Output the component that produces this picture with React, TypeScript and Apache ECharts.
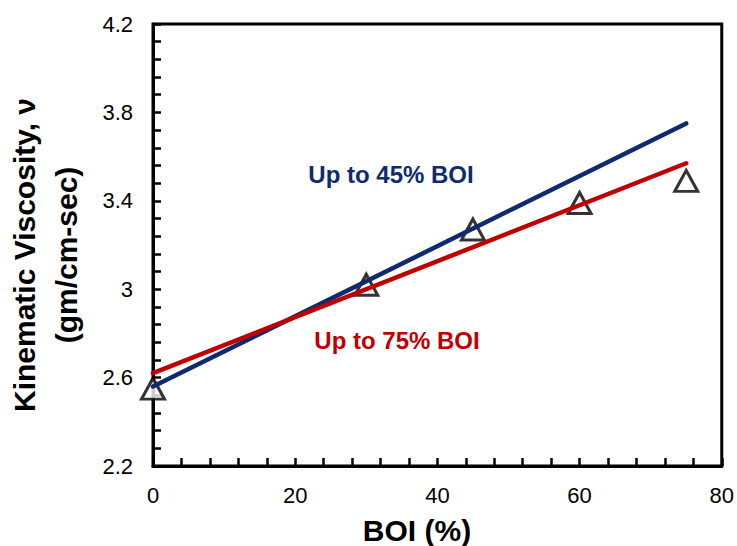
import React, { useEffect, useRef } from "react";
import * as echarts from "echarts";

const boi = [0, 30, 45, 60, 75];
const viscosity = [2.55, 3.02, 3.27, 3.39, 3.49];
const fit45X = [0, 75];
const fit45Y = [2.56, 3.75];
const fit75X = [0, 75];
const fit75Y = [2.62, 3.57];
const FONT = "Arial, 'Liberation Sans', sans-serif";

export default function App() {
  const ref = useRef<HTMLDivElement>(null);
  useEffect(() => {
    if (!ref.current) return;
    const chart = echarts.init(ref.current, null, { renderer: "svg" });
    chart.setOption({
      animation: false,
      backgroundColor: "#fff",
      grid: { left: 153, right: 14, top: 24, bottom: 80, show: true, borderColor: "#000", borderWidth: 3 },
      xAxis: {
        type: "value", min: 0, max: 80, interval: 20,
        axisLine: { lineStyle: { color: "#000", width: 3 } },
        axisTick: { inside: true, length: 8, lineStyle: { color: "#000", width: 2.5 } },
        minorTick: { show: true, splitNumber: 5, length: 8, lineStyle: { color: "#000", width: 2.5 } },
        splitLine: { show: false },
        axisLabel: { color: "#000", fontSize: 22, fontFamily: FONT, margin: 18 },
      },
      yAxis: {
        type: "value", min: 2.2, max: 4.2, interval: 0.4,
        axisLine: { lineStyle: { color: "#000", width: 3 } },
        axisTick: { inside: true, length: 8, lineStyle: { color: "#000", width: 2.5 } },
        minorTick: { show: true, splitNumber: 5, length: 8, lineStyle: { color: "#000", width: 2.5 } },
        splitLine: { show: false },
        axisLabel: { color: "#000", fontSize: 22, fontFamily: FONT, margin: 20 },
      },
      series: [
        {
          type: "scatter", z: 2,
          data: boi.map((x, i) => [x, viscosity[i]]),
          symbol: "triangle", symbolSize: [23, 21],
          itemStyle: { color: "#fff", borderColor: "#000", borderWidth: 3 },
        },
        {
          type: "line", z: 3, symbol: "none",
          data: fit45X.map((x, i) => [x, fit45Y[i]]),
          lineStyle: { color: "#0D2B6E", width: 4.5, cap: "round" },
        },
        {
          type: "line", z: 4, symbol: "none",
          data: fit75X.map((x, i) => [x, fit75Y[i]]),
          lineStyle: { color: "#C00000", width: 4.5, cap: "round" },
        },
      ],
      graphic: [
        { type: "text", x: 391, y: 174, style: { text: "Up to 45% BOI", fill: "#0D2B6E", font: `bold 24px ${FONT}`, align: "center", verticalAlign: "middle" } },
        { type: "text", x: 397, y: 340, style: { text: "Up to 75% BOI", fill: "#C00000", font: `bold 24px ${FONT}`, align: "center", verticalAlign: "middle" } },
        { type: "text", x: 417, y: 530, style: { text: "BOI (%)", fill: "#000", font: `bold 30px ${FONT}`, align: "center", verticalAlign: "middle" } },
        { type: "text", x: 24, y: 255, rotation: Math.PI / 2, style: { text: "Kinematic Viscosity, ν", fill: "#000", font: `bold 30px ${FONT}`, align: "center", verticalAlign: "middle" } },
        { type: "text", x: 66, y: 255, rotation: Math.PI / 2, style: { text: "(gm/cm-sec)", fill: "#000", font: `bold 30px ${FONT}`, align: "center", verticalAlign: "middle" } },
      ],
    });
    return () => chart.dispose();
  }, []);
  return <div ref={ref} style={{ width: 737, height: 546, position: "absolute", left: 0, top: 0 }} />;
}
